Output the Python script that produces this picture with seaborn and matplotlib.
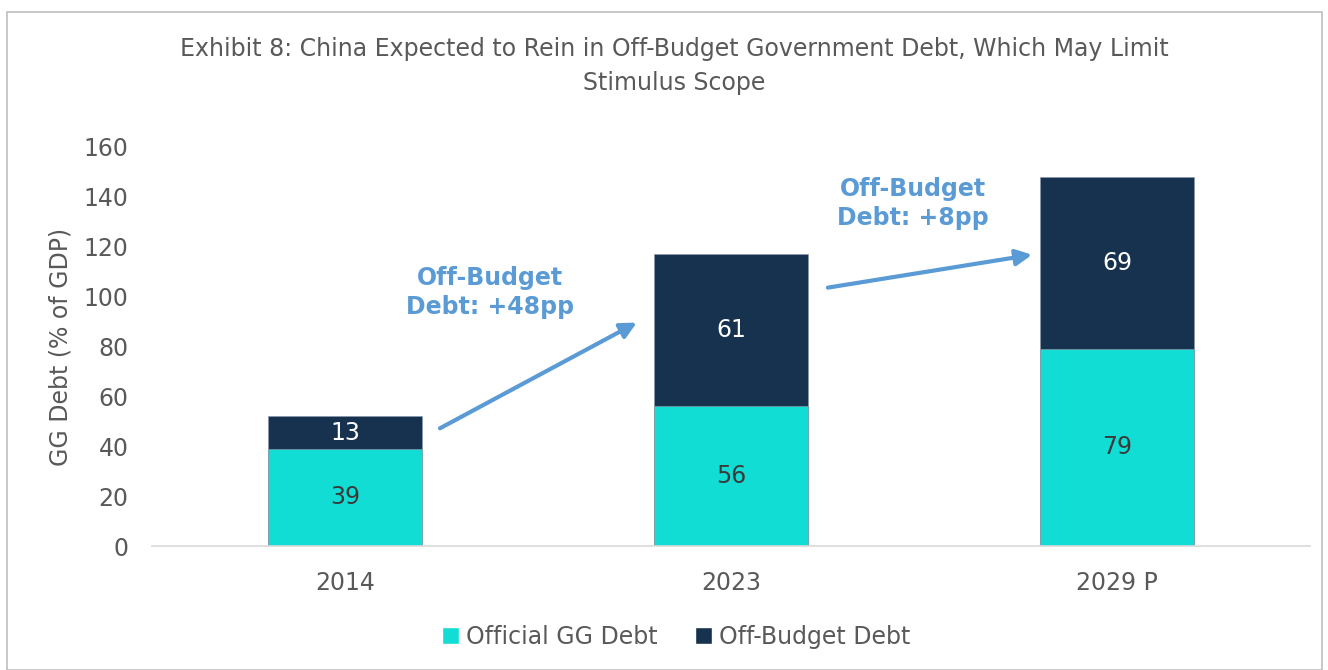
import matplotlib
matplotlib.use("Agg")
import matplotlib.pyplot as plt
from matplotlib.patches import Rectangle, Patch
import seaborn as sns
import pandas as pd

categories = ["2014", "2023", "2029 P"]
official_gg = [39, 56, 79]
off_budget = [13, 61, 69]
series_names = ["Official GG Debt", "Off-Budget Debt"]
yticks = [0, 20, 40, 60, 80, 100, 120, 140, 160]
title = "Exhibit 8: China Expected to Rein in Off-Budget Government Debt, Which May Limit\nStimulus Scope"
ylabel = "GG Debt (% of GDP)"
annotations = ["Off-Budget\nDebt: +48pp", "Off-Budget\nDebt: +8pp"]

TEAL = "#12DDD4"
NAVY = "#17324F"
ARROW = "#5B9BD5"
TXT = "#595959"
FS = 17

sns.set_theme(style="white")
plt.rcParams['font.family'] = ['DejaVu Sans']

totals = [a + b for a, b in zip(official_gg, off_budget)]
df = pd.DataFrame({"cat": categories, "official": official_gg, "total": totals})

fig = plt.figure(figsize=(13.28, 6.7), dpi=100)
ax = fig.add_axes([152/1328, 124/670, 1158/1328, 399/670])

sns.barplot(data=df, x="cat", y="total", color=NAVY, width=0.4, ax=ax,
            saturation=1, edgecolor="#8899aa", linewidth=0.5)
sns.barplot(data=df, x="cat", y="official", color=TEAL, width=0.4, ax=ax,
            saturation=1, edgecolor="#8899aa", linewidth=0.5)

for i, (o, b) in enumerate(zip(official_gg, off_budget)):
    ax.text(i, o / 2, f"{o}", ha="center", va="center", color="#3a3a3a", fontsize=FS)
    ax.text(i, o + b / 2, f"{b}", ha="center", va="center", color="white", fontsize=FS)

ax.set_xlim(-0.5, 2.5)
ax.set_ylim(0, 160)
ax.set_yticks(yticks)
ax.set_yticklabels([str(t) for t in yticks])
ax.tick_params(axis="both", labelsize=FS, labelcolor=TXT, length=0)
ax.tick_params(axis="y", pad=17)
ax.tick_params(axis="x", pad=18)
ax.set_xlabel("")
ax.set_ylabel(ylabel, fontsize=FS, color=TXT, labelpad=8)
for s in ["top", "right", "left"]:
    ax.spines[s].set_visible(False)
ax.spines["bottom"].set_color("#D9D9D9")
ax.spines["bottom"].set_linewidth(1.2)

# arrows
ax.annotate("", xy=(0.756, 89.6), xytext=(0.246, 47.2),
            arrowprops=dict(arrowstyle="-|>,head_length=0.8,head_width=0.4", color=ARROW, lw=3,
                            shrinkA=0, shrinkB=0))
ax.annotate("", xy=(1.780, 116.8), xytext=(1.251, 103.6),
            arrowprops=dict(arrowstyle="-|>,head_length=0.8,head_width=0.4", color=ARROW, lw=3,
                            shrinkA=0, shrinkB=0))
ax.text(0.376, 101.6, annotations[0], ha="center", va="center", color=ARROW,
        fontsize=FS, fontweight="bold", linespacing=1.25)
ax.text(1.471, 137.2, annotations[1], ha="center", va="center", color=ARROW,
        fontsize=FS, fontweight="bold", linespacing=1.25)

fig.text(674/1328, 1 - 66/670, title, ha="center", va="center", fontsize=FS,
         color=TXT, linespacing=1.5)

handles = [Patch(facecolor=TEAL, label=series_names[0]),
           Patch(facecolor=NAVY, label=series_names[1])]
leg = fig.legend(handles=handles, loc="center", bbox_to_anchor=(676/1328, 1 - 637/670),
                 ncol=2, frameon=False, fontsize=FS, handlelength=0.7, handleheight=0.7,
                 handletextpad=0.3, columnspacing=1.6)
for t in leg.get_texts():
    t.set_color(TXT)

fig.patches.append(Rectangle((7/1328, 0.0), 1315/1328, 1 - 12/670, transform=fig.transFigure,
                             fill=False, edgecolor="#BFBFBF", linewidth=1.2))

fig.savefig("out.png", dpi=100)
